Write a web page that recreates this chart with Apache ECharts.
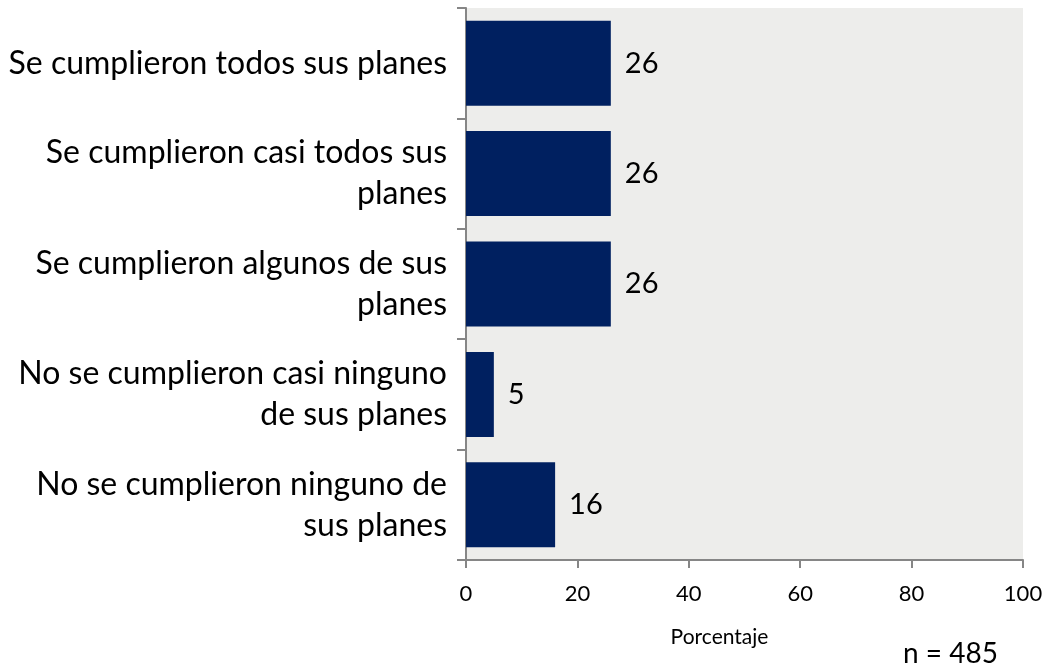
<!DOCTYPE html>
<html>
<head>
<meta charset="utf-8">
<script src="https://cdn.jsdelivr.net/npm/echarts@6/dist/echarts.min.js"></script>
<style>
    html, body { margin: 0; padding: 0; background: #fff; }
    #chart { width: 1048px; height: 671px; }
</style>
</head>
<body>
<div id="chart"></div>
<script>
// 分类（从上到下）
const categories = [
    'Se cumplieron todos sus planes',
    'Se cumplieron casi todos sus\nplanes',
    'Se cumplieron algunos de sus\nplanes',
    'No se cumplieron casi ninguno\nde sus planes',
    'No se cumplieron ninguno de\nsus planes'
];
// 百分比
const values = [26, 26, 26, 5, 16];
const xTicks = [0, 20, 40, 60, 80, 100];
const sampleNote = 'n = 485';

const font = 'Lato, "Open Sans", sans-serif';
const axisGray = '#868686';

const myChart = echarts.init(document.getElementById('chart'));

const option = {
    backgroundColor: '#ffffff',
    animation: false,
    grid: {
        left: 466, right: 25, top: 8, bottom: 111,
        show: true,
        backgroundColor: '#ededeb',
        borderWidth: 0
    },
    xAxis: {
        type: 'value',
        min: xTicks[0],
        max: xTicks[xTicks.length - 1],
        interval: 20,
        name: 'Porcentaje',
        nameLocation: 'middle',
        nameGap: 67,
        nameTextStyle: { fontFamily: font, fontSize: 21, color: '#000', padding: [0, 50, 0, 0] },
        axisLine: { show: true, lineStyle: { color: axisGray, width: 2 } },
        axisTick: { show: true, length: 8, lineStyle: { color: axisGray, width: 2 } },
        axisLabel: { fontFamily: font, fontSize: 22, color: '#000', margin: 23 },
        splitLine: { show: false }
    },
    yAxis: {
        type: 'category',
        inverse: true,
        data: categories,
        axisLine: { show: true, lineStyle: { color: axisGray, width: 2 } },
        axisTick: { show: true, length: 9, lineStyle: { color: axisGray, width: 2 } },
        axisLabel: {
            fontFamily: font, fontSize: 32, color: '#000',
            margin: 19, align: 'right', lineHeight: 41
        }
    },
    series: [{
        type: 'bar',
        data: values,
        barCategoryGap: '23%',
        itemStyle: { color: '#002060' },
        label: {
            show: true,
            position: 'right',
            distance: 14,
            fontFamily: font,
            fontSize: 29,
            color: '#000'
        }
    }],
    graphic: [{
        type: 'text',
        left: 903,
        top: 640,
        style: { text: sampleNote, font: '28px ' + font, fill: '#000' }
    }]
};

option && myChart.setOption(option, true);
</script>
</body>
</html>
